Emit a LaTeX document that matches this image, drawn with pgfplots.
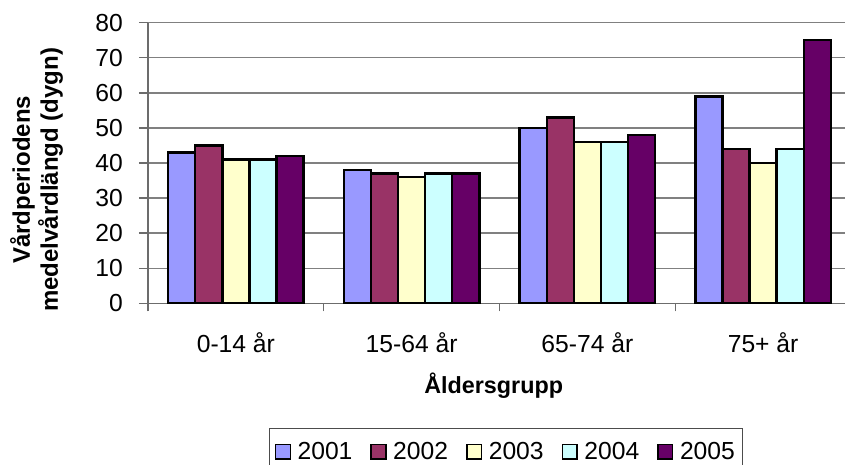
\documentclass[border=0pt]{standalone}
\usepackage{pgfplots}
\usepackage{pgfplotstable}
\pgfplotsset{compat=1.18}
\usepackage{fontspec}
\setmainfont{Liberation Sans}
\definecolor{c1}{HTML}{9999FF}
\definecolor{c2}{HTML}{993366}
\definecolor{c3}{HTML}{FFFFCC}
\definecolor{c4}{HTML}{CCFFFF}
\definecolor{c5}{HTML}{660066}
\pgfplotsset{legsq/.style={legend image code/.code={\path[draw=none,fill=none] (0pt,0pt) -- (14.5pt,0pt);\draw[##1,draw=black,line width=1.1pt] (0pt,-5.5pt) rectangle (11pt,5.5pt);}}}
\pgfplotstableread{
x a b c d e
0 43 45 41 41 42
1 38 37 36 37 37
2 50 53 46 46 48
3 59 44 40 44 75
}\data
\begin{document}
\begin{tikzpicture}
\path[use as bounding box] (0,0) rectangle (633.75pt,348pt);
\begin{axis}[
  at={(111pt,120.525pt)}, anchor=south west,
  scale only axis, width=522.75pt, height=210.45pt,
  xmin=-0.5, xmax=3.466, ymin=0, ymax=80,
  ybar=0pt, bar width=20.33pt,
  axis lines=left,
  axis line style={draw=gray!85!black, line width=1.2pt, -},
  ytick distance=10,
  ymajorgrids, grid style={gray, line width=1pt},
  tick align=outside,
  major tick length=6.75pt, minor tick length=6pt,
  tick style={gray!85!black, line width=1pt},
  xtick={0,1,2,3},
  xticklabels={0-14 år, 15-64 år, 65-74 år, 75+ år},
  major x tick style={draw=none},
  minor xtick={-0.5,0.5,1.5,2.5},
  /pgf/number format/assume math mode=true,
  ticklabel style={font=\fontsize{18.5}{18.5}\selectfont, inner sep=0pt},
  xticklabel style={anchor=north},
  xticklabel shift=15pt,
  yticklabel style={anchor=east},
  yticklabel shift=12pt,
  xlabel={Åldersgrupp},
  xlabel style={font=\bfseries\fontsize{17.5}{17.5}\selectfont, at={(axis description cs:0.496,-0.323)}, anchor=base, inner sep=0pt},
  ylabel={Vårdperiodens\\medelvårdlängd (dygn)},
  ylabel style={font=\bfseries\fontsize{18}{21}\selectfont, align=center, at={(axis description cs:-0.160,0.44)}, anchor=center, rotate=0},
  legend columns=5,
  legend style={at={(axis description cs:0.1736,-0.443)}, anchor=north west,
    draw=black!70, line width=0.8pt,
    font=\fontsize{18.5}{18.5}\selectfont,
    /tikz/every even column/.append style={column sep=11.5pt},
    inner xsep=4pt, inner ysep=8.5pt},
  legend cell align=left,
]
\addplot[fill=c1, draw=black, line width=1.8pt, legsq] table[x=x,y=a]{\data};
\addplot[fill=c2, draw=black, line width=1.8pt, legsq] table[x=x,y=b]{\data};
\addplot[fill=c3, draw=black, line width=1.8pt, legsq] table[x=x,y=c]{\data};
\addplot[fill=c4, draw=black, line width=1.8pt, legsq] table[x=x,y=d]{\data};
\addplot[fill=c5, draw=black, line width=1.8pt, legsq] table[x=x,y=e]{\data};
\legend{2001,2002,2003,2004,2005}
\end{axis}
\end{tikzpicture}
\end{document}
